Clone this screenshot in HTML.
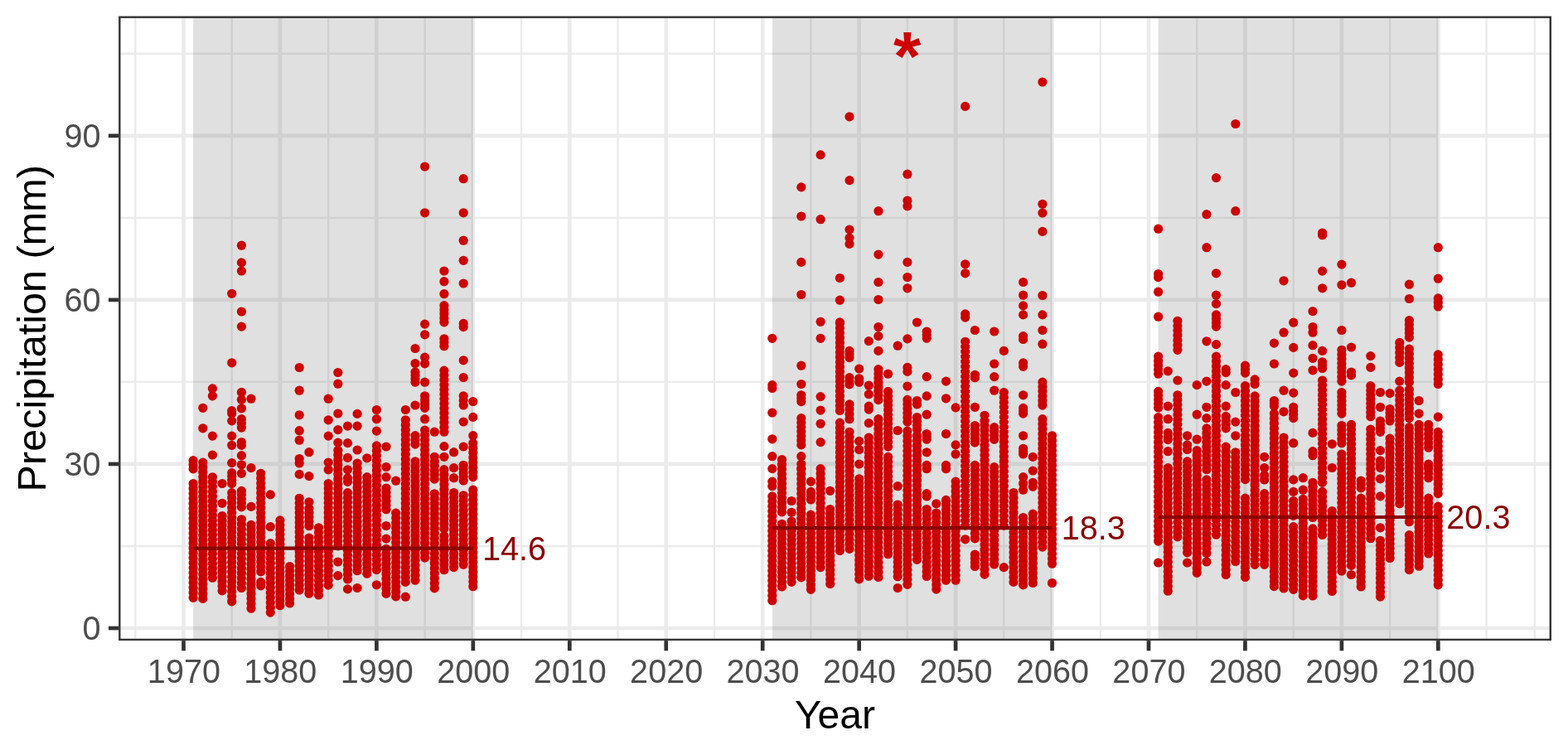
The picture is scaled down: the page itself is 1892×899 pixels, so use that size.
<!DOCTYPE html>
<html><head><meta charset="utf-8"><title>Precipitation</title>
<style>html,body{margin:0;padding:0;background:#fff;overflow:hidden}svg{display:block}</style>
</head><body>
<svg width="1892" height="899" viewBox="0 0 1892 899">
<rect x="0" y="0" width="1892" height="899" fill="#FFFFFF"/>
<defs><clipPath id="pc"><rect x="143.1" y="19.5" width="1728.90" height="753.60"/></clipPath></defs>
<g clip-path="url(#pc)">
<line x1="163.28" y1="19.5" x2="163.28" y2="773.1" stroke="#EBEBEB" stroke-width="2.4"/>
<line x1="279.73" y1="19.5" x2="279.73" y2="773.1" stroke="#EBEBEB" stroke-width="2.4"/>
<line x1="396.17" y1="19.5" x2="396.17" y2="773.1" stroke="#EBEBEB" stroke-width="2.4"/>
<line x1="512.62" y1="19.5" x2="512.62" y2="773.1" stroke="#EBEBEB" stroke-width="2.4"/>
<line x1="629.08" y1="19.5" x2="629.08" y2="773.1" stroke="#EBEBEB" stroke-width="2.4"/>
<line x1="745.52" y1="19.5" x2="745.52" y2="773.1" stroke="#EBEBEB" stroke-width="2.4"/>
<line x1="861.98" y1="19.5" x2="861.98" y2="773.1" stroke="#EBEBEB" stroke-width="2.4"/>
<line x1="978.42" y1="19.5" x2="978.42" y2="773.1" stroke="#EBEBEB" stroke-width="2.4"/>
<line x1="1094.88" y1="19.5" x2="1094.88" y2="773.1" stroke="#EBEBEB" stroke-width="2.4"/>
<line x1="1211.32" y1="19.5" x2="1211.32" y2="773.1" stroke="#EBEBEB" stroke-width="2.4"/>
<line x1="1327.77" y1="19.5" x2="1327.77" y2="773.1" stroke="#EBEBEB" stroke-width="2.4"/>
<line x1="1444.22" y1="19.5" x2="1444.22" y2="773.1" stroke="#EBEBEB" stroke-width="2.4"/>
<line x1="1560.67" y1="19.5" x2="1560.67" y2="773.1" stroke="#EBEBEB" stroke-width="2.4"/>
<line x1="1677.12" y1="19.5" x2="1677.12" y2="773.1" stroke="#EBEBEB" stroke-width="2.4"/>
<line x1="1793.58" y1="19.5" x2="1793.58" y2="773.1" stroke="#EBEBEB" stroke-width="2.4"/>
<line x1="1851.80" y1="19.5" x2="1851.80" y2="773.1" stroke="#EBEBEB" stroke-width="2.4"/>
<line x1="143.1" y1="658.97" x2="1872.0" y2="658.97" stroke="#EBEBEB" stroke-width="2.4"/>
<line x1="143.1" y1="460.91" x2="1872.0" y2="460.91" stroke="#EBEBEB" stroke-width="2.4"/>
<line x1="143.1" y1="262.85" x2="1872.0" y2="262.85" stroke="#EBEBEB" stroke-width="2.4"/>
<line x1="143.1" y1="64.79" x2="1872.0" y2="64.79" stroke="#EBEBEB" stroke-width="2.4"/>
<line x1="221.50" y1="19.5" x2="221.50" y2="773.1" stroke="#EBEBEB" stroke-width="4.7"/>
<line x1="337.95" y1="19.5" x2="337.95" y2="773.1" stroke="#EBEBEB" stroke-width="4.7"/>
<line x1="454.40" y1="19.5" x2="454.40" y2="773.1" stroke="#EBEBEB" stroke-width="4.7"/>
<line x1="570.85" y1="19.5" x2="570.85" y2="773.1" stroke="#EBEBEB" stroke-width="4.7"/>
<line x1="687.30" y1="19.5" x2="687.30" y2="773.1" stroke="#EBEBEB" stroke-width="4.7"/>
<line x1="803.75" y1="19.5" x2="803.75" y2="773.1" stroke="#EBEBEB" stroke-width="4.7"/>
<line x1="920.20" y1="19.5" x2="920.20" y2="773.1" stroke="#EBEBEB" stroke-width="4.7"/>
<line x1="1036.65" y1="19.5" x2="1036.65" y2="773.1" stroke="#EBEBEB" stroke-width="4.7"/>
<line x1="1153.10" y1="19.5" x2="1153.10" y2="773.1" stroke="#EBEBEB" stroke-width="4.7"/>
<line x1="1269.55" y1="19.5" x2="1269.55" y2="773.1" stroke="#EBEBEB" stroke-width="4.7"/>
<line x1="1386.00" y1="19.5" x2="1386.00" y2="773.1" stroke="#EBEBEB" stroke-width="4.7"/>
<line x1="1502.45" y1="19.5" x2="1502.45" y2="773.1" stroke="#EBEBEB" stroke-width="4.7"/>
<line x1="1618.90" y1="19.5" x2="1618.90" y2="773.1" stroke="#EBEBEB" stroke-width="4.7"/>
<line x1="1735.35" y1="19.5" x2="1735.35" y2="773.1" stroke="#EBEBEB" stroke-width="4.7"/>
<line x1="143.1" y1="758.00" x2="1872.0" y2="758.00" stroke="#EBEBEB" stroke-width="4.7"/>
<line x1="143.1" y1="559.94" x2="1872.0" y2="559.94" stroke="#EBEBEB" stroke-width="4.7"/>
<line x1="143.1" y1="361.88" x2="1872.0" y2="361.88" stroke="#EBEBEB" stroke-width="4.7"/>
<line x1="143.1" y1="163.82" x2="1872.0" y2="163.82" stroke="#EBEBEB" stroke-width="4.7"/>
<rect x="233.15" y="19.5" width="337.70" height="753.60" fill="#666666" fill-opacity="0.2"/>
<rect x="931.85" y="19.5" width="337.70" height="753.60" fill="#666666" fill-opacity="0.2"/>
<rect x="1397.64" y="19.5" width="337.70" height="753.60" fill="#666666" fill-opacity="0.2"/>
<g fill="#CD0000" stroke="none">
<line x1="233.1" y1="555.7" x2="233.1" y2="571" stroke="#CD0000" stroke-width="11.2" stroke-linecap="round" stroke-dasharray="0 5.100"/>
<line x1="233.1" y1="583.5" x2="233.1" y2="721.3" stroke="#CD0000" stroke-width="11.2" stroke-linecap="round" stroke-dasharray="0 5.991"/>
<line x1="244.8" y1="558" x2="244.8" y2="722.4" stroke="#CD0000" stroke-width="11.2" stroke-linecap="round" stroke-dasharray="0 5.871"/>
<circle cx="244.8" cy="492.3" r="5.6"/>
<circle cx="244.8" cy="516.8" r="5.6"/>
<line x1="256.4" y1="575.8" x2="256.4" y2="703" stroke="#CD0000" stroke-width="11.2" stroke-linecap="round" stroke-dasharray="0 5.782"/>
<circle cx="256.4" cy="468.9" r="5.6"/>
<circle cx="256.4" cy="477.8" r="5.6"/>
<circle cx="256.4" cy="526.1" r="5.6"/>
<circle cx="256.4" cy="549" r="5.6"/>
<line x1="268.1" y1="622.5" x2="268.1" y2="712.9" stroke="#CD0000" stroke-width="11.2" stroke-linecap="round" stroke-dasharray="0 5.650"/>
<circle cx="268.1" cy="583.5" r="5.6"/>
<circle cx="268.1" cy="607.3" r="5.6"/>
<line x1="279.7" y1="570.6" x2="279.7" y2="583.5" stroke="#CD0000" stroke-width="11.2" stroke-linecap="round" stroke-dasharray="0 4.300"/>
<line x1="279.7" y1="594.7" x2="279.7" y2="725.8" stroke="#CD0000" stroke-width="11.2" stroke-linecap="round" stroke-dasharray="0 5.959"/>
<circle cx="279.7" cy="354.3" r="5.6"/>
<circle cx="279.7" cy="437.8" r="5.6"/>
<circle cx="279.7" cy="495.6" r="5.6"/>
<circle cx="279.7" cy="499" r="5.6"/>
<circle cx="279.7" cy="507.9" r="5.6"/>
<circle cx="279.7" cy="526.1" r="5.6"/>
<circle cx="279.7" cy="537.3" r="5.6"/>
<circle cx="279.7" cy="558.6" r="5.6"/>
<line x1="291.4" y1="505.7" x2="291.4" y2="521.2" stroke="#CD0000" stroke-width="11.2" stroke-linecap="round" stroke-dasharray="0 5.167"/>
<line x1="291.4" y1="533.5" x2="291.4" y2="541.3" stroke="#CD0000" stroke-width="11.2" stroke-linecap="round" stroke-dasharray="0 3.900"/>
<line x1="291.4" y1="592.4" x2="291.4" y2="616.7" stroke="#CD0000" stroke-width="11.2" stroke-linecap="round" stroke-dasharray="0 4.860"/>
<line x1="291.4" y1="626.8" x2="291.4" y2="709.5" stroke="#CD0000" stroke-width="11.2" stroke-linecap="round" stroke-dasharray="0 5.907"/>
<circle cx="291.4" cy="296.2" r="5.6"/>
<circle cx="291.4" cy="316.9" r="5.6"/>
<circle cx="291.4" cy="327" r="5.6"/>
<circle cx="291.4" cy="376" r="5.6"/>
<circle cx="291.4" cy="394.1" r="5.6"/>
<circle cx="291.4" cy="473.4" r="5.6"/>
<circle cx="291.4" cy="482.3" r="5.6"/>
<circle cx="291.4" cy="492.8" r="5.6"/>
<circle cx="291.4" cy="549.7" r="5.6"/>
<circle cx="291.4" cy="560.8" r="5.6"/>
<circle cx="291.4" cy="571.3" r="5.6"/>
<line x1="303.0" y1="633.4" x2="303.0" y2="734.2" stroke="#CD0000" stroke-width="11.2" stroke-linecap="round" stroke-dasharray="0 5.929"/>
<circle cx="303.0" cy="481.2" r="5.6"/>
<circle cx="303.0" cy="564.6" r="5.6"/>
<circle cx="303.0" cy="611.4" r="5.6"/>
<line x1="314.7" y1="571.3" x2="314.7" y2="695.7" stroke="#CD0000" stroke-width="11.2" stroke-linecap="round" stroke-dasharray="0 5.924"/>
<line x1="314.7" y1="702.4" x2="314.7" y2="711.3" stroke="#CD0000" stroke-width="11.2" stroke-linecap="round" stroke-dasharray="0 4.450"/>
<line x1="326.3" y1="655.7" x2="326.3" y2="739.1" stroke="#CD0000" stroke-width="11.2" stroke-linecap="round" stroke-dasharray="0 5.957"/>
<circle cx="326.3" cy="596.9" r="5.6"/>
<circle cx="326.3" cy="635.7" r="5.6"/>
<line x1="337.9" y1="627.9" x2="337.9" y2="730.7" stroke="#CD0000" stroke-width="11.2" stroke-linecap="round" stroke-dasharray="0 5.711"/>
<line x1="349.6" y1="683.5" x2="349.6" y2="728" stroke="#CD0000" stroke-width="11.2" stroke-linecap="round" stroke-dasharray="0 5.562"/>
<line x1="361.2" y1="601.3" x2="361.2" y2="712" stroke="#CD0000" stroke-width="11.2" stroke-linecap="round" stroke-dasharray="0 5.826"/>
<circle cx="361.2" cy="443.5" r="5.6"/>
<circle cx="361.2" cy="471.2" r="5.6"/>
<circle cx="361.2" cy="500.8" r="5.6"/>
<circle cx="361.2" cy="519.7" r="5.6"/>
<circle cx="361.2" cy="531.2" r="5.6"/>
<circle cx="361.2" cy="553.5" r="5.6"/>
<circle cx="361.2" cy="559" r="5.6"/>
<circle cx="361.2" cy="572.4" r="5.6"/>
<line x1="372.9" y1="613.4" x2="372.9" y2="640" stroke="#CD0000" stroke-width="11.2" stroke-linecap="round" stroke-dasharray="0 5.320"/>
<line x1="372.9" y1="649" x2="372.9" y2="721.8" stroke="#CD0000" stroke-width="11.2" stroke-linecap="round" stroke-dasharray="0 5.600"/>
<circle cx="372.9" cy="545.7" r="5.6"/>
<circle cx="372.9" cy="574.6" r="5.6"/>
<circle cx="372.9" cy="605.8" r="5.6"/>
<line x1="384.5" y1="636.8" x2="384.5" y2="718" stroke="#CD0000" stroke-width="11.2" stroke-linecap="round" stroke-dasharray="0 5.800"/>
<line x1="396.2" y1="583.5" x2="396.2" y2="712" stroke="#CD0000" stroke-width="11.2" stroke-linecap="round" stroke-dasharray="0 5.841"/>
<circle cx="396.2" cy="481.2" r="5.6"/>
<circle cx="396.2" cy="506.8" r="5.6"/>
<circle cx="396.2" cy="526.1" r="5.6"/>
<circle cx="396.2" cy="558" r="5.6"/>
<circle cx="396.2" cy="566.8" r="5.6"/>
<line x1="407.8" y1="543.5" x2="407.8" y2="664.6" stroke="#CD0000" stroke-width="11.2" stroke-linecap="round" stroke-dasharray="0 5.767"/>
<circle cx="407.8" cy="449.5" r="5.6"/>
<circle cx="407.8" cy="463.2" r="5.6"/>
<circle cx="407.8" cy="499" r="5.6"/>
<circle cx="407.8" cy="518.6" r="5.6"/>
<circle cx="407.8" cy="534.1" r="5.6"/>
<circle cx="407.8" cy="678" r="5.6"/>
<circle cx="407.8" cy="694.6" r="5.6"/>
<line x1="419.5" y1="576.9" x2="419.5" y2="585.8" stroke="#CD0000" stroke-width="11.2" stroke-linecap="round" stroke-dasharray="0 4.450"/>
<line x1="419.5" y1="594.7" x2="419.5" y2="699" stroke="#CD0000" stroke-width="11.2" stroke-linecap="round" stroke-dasharray="0 5.794"/>
<circle cx="419.5" cy="514.1" r="5.6"/>
<circle cx="419.5" cy="534.6" r="5.6"/>
<circle cx="419.5" cy="552.4" r="5.6"/>
<circle cx="419.5" cy="566.8" r="5.6"/>
<circle cx="419.5" cy="710.9" r="5.6"/>
<line x1="431.1" y1="559" x2="431.1" y2="694.6" stroke="#CD0000" stroke-width="11.2" stroke-linecap="round" stroke-dasharray="0 5.896"/>
<circle cx="431.1" cy="499.4" r="5.6"/>
<circle cx="431.1" cy="514.1" r="5.6"/>
<circle cx="431.1" cy="543" r="5.6"/>
<circle cx="431.1" cy="709.5" r="5.6"/>
<line x1="442.8" y1="575.7" x2="442.8" y2="698" stroke="#CD0000" stroke-width="11.2" stroke-linecap="round" stroke-dasharray="0 5.824"/>
<circle cx="442.8" cy="552.8" r="5.6"/>
<line x1="454.4" y1="520.1" x2="454.4" y2="524.6" stroke="#CD0000" stroke-width="11.2" stroke-linecap="round" stroke-dasharray="0 4.500"/>
<line x1="454.4" y1="537.9" x2="454.4" y2="693.5" stroke="#CD0000" stroke-width="11.2" stroke-linecap="round" stroke-dasharray="0 5.985"/>
<circle cx="454.4" cy="494.5" r="5.6"/>
<circle cx="454.4" cy="505.7" r="5.6"/>
<circle cx="454.4" cy="705.8" r="5.6"/>
<line x1="466.0" y1="589" x2="466.0" y2="614.7" stroke="#CD0000" stroke-width="11.2" stroke-linecap="round" stroke-dasharray="0 5.140"/>
<line x1="466.0" y1="662.4" x2="466.0" y2="722.4" stroke="#CD0000" stroke-width="11.2" stroke-linecap="round" stroke-dasharray="0 6.000"/>
<circle cx="466.0" cy="539" r="5.6"/>
<circle cx="466.0" cy="563.5" r="5.6"/>
<circle cx="466.0" cy="575.7" r="5.6"/>
<circle cx="466.0" cy="634.5" r="5.6"/>
<circle cx="466.0" cy="650.1" r="5.6"/>
<line x1="477.7" y1="619.1" x2="477.7" y2="725.8" stroke="#CD0000" stroke-width="11.2" stroke-linecap="round" stroke-dasharray="0 5.928"/>
<circle cx="477.7" cy="580.2" r="5.6"/>
<line x1="489.3" y1="506.8" x2="489.3" y2="702.4" stroke="#CD0000" stroke-width="11.2" stroke-linecap="round" stroke-dasharray="0 5.927"/>
<circle cx="489.3" cy="494.5" r="5.6"/>
<circle cx="489.3" cy="720.2" r="5.6"/>
<line x1="501.0" y1="448.9" x2="501.0" y2="461.2" stroke="#CD0000" stroke-width="11.2" stroke-linecap="round" stroke-dasharray="0 4.100"/>
<line x1="501.0" y1="525.7" x2="501.0" y2="541.3" stroke="#CD0000" stroke-width="11.2" stroke-linecap="round" stroke-dasharray="0 5.200"/>
<line x1="501.0" y1="556.8" x2="501.0" y2="700.2" stroke="#CD0000" stroke-width="11.2" stroke-linecap="round" stroke-dasharray="0 5.975"/>
<circle cx="501.0" cy="420.5" r="5.6"/>
<circle cx="501.0" cy="438.5" r="5.6"/>
<circle cx="501.0" cy="489" r="5.6"/>
<line x1="512.6" y1="477.8" x2="512.6" y2="492.3" stroke="#CD0000" stroke-width="11.2" stroke-linecap="round" stroke-dasharray="0 4.833"/>
<line x1="512.6" y1="519" x2="512.6" y2="679" stroke="#CD0000" stroke-width="11.2" stroke-linecap="round" stroke-dasharray="0 5.926"/>
<circle cx="512.6" cy="201" r="5.6"/>
<circle cx="512.6" cy="256.8" r="5.6"/>
<circle cx="512.6" cy="391.1" r="5.6"/>
<circle cx="512.6" cy="403.8" r="5.6"/>
<circle cx="512.6" cy="431.2" r="5.6"/>
<circle cx="512.6" cy="438.8" r="5.6"/>
<circle cx="512.6" cy="461.2" r="5.6"/>
<circle cx="512.6" cy="505.7" r="5.6"/>
<line x1="524.3" y1="551.3" x2="524.3" y2="583.5" stroke="#CD0000" stroke-width="11.2" stroke-linecap="round" stroke-dasharray="0 5.367"/>
<line x1="524.3" y1="595.8" x2="524.3" y2="715.8" stroke="#CD0000" stroke-width="11.2" stroke-linecap="round" stroke-dasharray="0 6.000"/>
<circle cx="524.3" cy="521.2" r="5.6"/>
<line x1="535.9" y1="368.7" x2="535.9" y2="393.8" stroke="#CD0000" stroke-width="11.2" stroke-linecap="round" stroke-dasharray="0 5.020"/>
<line x1="535.9" y1="408.8" x2="535.9" y2="422.2" stroke="#CD0000" stroke-width="11.2" stroke-linecap="round" stroke-dasharray="0 4.467"/>
<line x1="535.9" y1="447.2" x2="535.9" y2="521.2" stroke="#CD0000" stroke-width="11.2" stroke-linecap="round" stroke-dasharray="0 5.692"/>
<line x1="535.9" y1="566.7" x2="535.9" y2="637.9" stroke="#CD0000" stroke-width="11.2" stroke-linecap="round" stroke-dasharray="0 5.933"/>
<line x1="535.9" y1="646.8" x2="535.9" y2="693.5" stroke="#CD0000" stroke-width="11.2" stroke-linecap="round" stroke-dasharray="0 5.838"/>
<circle cx="535.9" cy="327" r="5.6"/>
<circle cx="535.9" cy="339.7" r="5.6"/>
<circle cx="535.9" cy="354.7" r="5.6"/>
<circle cx="535.9" cy="538.6" r="5.6"/>
<circle cx="535.9" cy="551.3" r="5.6"/>
<line x1="547.6" y1="594.5" x2="547.6" y2="684.6" stroke="#CD0000" stroke-width="11.2" stroke-linecap="round" stroke-dasharray="0 5.631"/>
<circle cx="547.6" cy="545.7" r="5.6"/>
<circle cx="547.6" cy="564.6" r="5.6"/>
<circle cx="547.6" cy="576.7" r="5.6"/>
<line x1="559.2" y1="342" x2="559.2" y2="345.3" stroke="#CD0000" stroke-width="11.2" stroke-linecap="round" stroke-dasharray="0 3.300"/>
<line x1="559.2" y1="390.4" x2="559.2" y2="398.8" stroke="#CD0000" stroke-width="11.2" stroke-linecap="round" stroke-dasharray="0 4.200"/>
<line x1="559.2" y1="455.5" x2="559.2" y2="458.9" stroke="#CD0000" stroke-width="11.2" stroke-linecap="round" stroke-dasharray="0 3.400"/>
<line x1="559.2" y1="477.8" x2="559.2" y2="494.5" stroke="#CD0000" stroke-width="11.2" stroke-linecap="round" stroke-dasharray="0 5.567"/>
<line x1="559.2" y1="561.3" x2="559.2" y2="580" stroke="#CD0000" stroke-width="11.2" stroke-linecap="round" stroke-dasharray="0 4.675"/>
<line x1="559.2" y1="597.8" x2="559.2" y2="681.3" stroke="#CD0000" stroke-width="11.2" stroke-linecap="round" stroke-dasharray="0 5.964"/>
<circle cx="559.2" cy="215.7" r="5.6"/>
<circle cx="559.2" cy="256.8" r="5.6"/>
<circle cx="559.2" cy="290.2" r="5.6"/>
<circle cx="559.2" cy="314.3" r="5.6"/>
<circle cx="559.2" cy="434.8" r="5.6"/>
<circle cx="559.2" cy="509" r="5.6"/>
<circle cx="559.2" cy="539" r="5.6"/>
<line x1="570.8" y1="534.6" x2="570.8" y2="575.6" stroke="#CD0000" stroke-width="11.2" stroke-linecap="round" stroke-dasharray="0 5.857"/>
<line x1="570.8" y1="591.2" x2="570.8" y2="713.5" stroke="#CD0000" stroke-width="11.2" stroke-linecap="round" stroke-dasharray="0 5.824"/>
<circle cx="570.8" cy="484.5" r="5.6"/>
<circle cx="570.8" cy="503.4" r="5.6"/>
<circle cx="570.8" cy="525.7" r="5.6"/>
<line x1="931.8" y1="464.6" x2="931.8" y2="472.4" stroke="#CD0000" stroke-width="11.2" stroke-linecap="round" stroke-dasharray="0 3.900"/>
<line x1="931.8" y1="581.1" x2="931.8" y2="586.7" stroke="#CD0000" stroke-width="11.2" stroke-linecap="round" stroke-dasharray="0 5.600"/>
<line x1="931.8" y1="598.9" x2="931.8" y2="724.7" stroke="#CD0000" stroke-width="11.2" stroke-linecap="round" stroke-dasharray="0 5.990"/>
<circle cx="931.8" cy="408.3" r="5.6"/>
<circle cx="931.8" cy="498" r="5.6"/>
<circle cx="931.8" cy="529.8" r="5.6"/>
<circle cx="931.8" cy="550.7" r="5.6"/>
<circle cx="931.8" cy="565.6" r="5.6"/>
<line x1="943.5" y1="554.7" x2="943.5" y2="617.9" stroke="#CD0000" stroke-width="11.2" stroke-linecap="round" stroke-dasharray="0 5.745"/>
<line x1="943.5" y1="632.3" x2="943.5" y2="708" stroke="#CD0000" stroke-width="11.2" stroke-linecap="round" stroke-dasharray="0 5.823"/>
<line x1="955.1" y1="629" x2="955.1" y2="708" stroke="#CD0000" stroke-width="11.2" stroke-linecap="round" stroke-dasharray="0 5.643"/>
<circle cx="955.1" cy="604.5" r="5.6"/>
<circle cx="955.1" cy="618.3" r="5.6"/>
<line x1="966.8" y1="441.2" x2="966.8" y2="446.8" stroke="#CD0000" stroke-width="11.2" stroke-linecap="round" stroke-dasharray="0 5.600"/>
<line x1="966.8" y1="463.5" x2="966.8" y2="466.8" stroke="#CD0000" stroke-width="11.2" stroke-linecap="round" stroke-dasharray="0 3.300"/>
<line x1="966.8" y1="476.8" x2="966.8" y2="484.6" stroke="#CD0000" stroke-width="11.2" stroke-linecap="round" stroke-dasharray="0 3.900"/>
<line x1="966.8" y1="504.6" x2="966.8" y2="536.9" stroke="#CD0000" stroke-width="11.2" stroke-linecap="round" stroke-dasharray="0 5.383"/>
<line x1="966.8" y1="560" x2="966.8" y2="691.3" stroke="#CD0000" stroke-width="11.2" stroke-linecap="round" stroke-dasharray="0 5.968"/>
<circle cx="966.8" cy="225.9" r="5.6"/>
<circle cx="966.8" cy="261" r="5.6"/>
<circle cx="966.8" cy="316.4" r="5.6"/>
<circle cx="966.8" cy="355.5" r="5.6"/>
<circle cx="966.8" cy="550.7" r="5.6"/>
<circle cx="966.8" cy="565.4" r="5.6"/>
<circle cx="966.8" cy="696.8" r="5.6"/>
<line x1="978.4" y1="593.4" x2="978.4" y2="607.8" stroke="#CD0000" stroke-width="11.2" stroke-linecap="round" stroke-dasharray="0 4.800"/>
<line x1="978.4" y1="621.2" x2="978.4" y2="711.3" stroke="#CD0000" stroke-width="11.2" stroke-linecap="round" stroke-dasharray="0 5.631"/>
<circle cx="978.4" cy="581.1" r="5.6"/>
<line x1="990.1" y1="533.6" x2="990.1" y2="539.1" stroke="#CD0000" stroke-width="11.2" stroke-linecap="round" stroke-dasharray="0 5.500"/>
<line x1="990.1" y1="565.6" x2="990.1" y2="684.6" stroke="#CD0000" stroke-width="11.2" stroke-linecap="round" stroke-dasharray="0 5.950"/>
<circle cx="990.1" cy="186.9" r="5.6"/>
<circle cx="990.1" cy="264.7" r="5.6"/>
<circle cx="990.1" cy="388.3" r="5.6"/>
<circle cx="990.1" cy="408.3" r="5.6"/>
<circle cx="990.1" cy="478.6" r="5.6"/>
<circle cx="990.1" cy="495.1" r="5.6"/>
<circle cx="990.1" cy="511.3" r="5.6"/>
<line x1="1001.7" y1="614.5" x2="1001.7" y2="704.6" stroke="#CD0000" stroke-width="11.2" stroke-linecap="round" stroke-dasharray="0 5.631"/>
<circle cx="1001.7" cy="592.3" r="5.6"/>
<line x1="1013.4" y1="390" x2="1013.4" y2="501.3" stroke="#CD0000" stroke-width="11.2" stroke-linecap="round" stroke-dasharray="0 5.858"/>
<line x1="1013.4" y1="510.2" x2="1013.4" y2="664.6" stroke="#CD0000" stroke-width="11.2" stroke-linecap="round" stroke-dasharray="0 5.938"/>
<circle cx="1013.4" cy="335.5" r="5.6"/>
<circle cx="1013.4" cy="362.2" r="5.6"/>
<circle cx="1013.4" cy="388.9" r="5.6"/>
<line x1="1025.0" y1="423.4" x2="1025.0" y2="435.6" stroke="#CD0000" stroke-width="11.2" stroke-linecap="round" stroke-dasharray="0 4.067"/>
<line x1="1025.0" y1="455.7" x2="1025.0" y2="467.9" stroke="#CD0000" stroke-width="11.2" stroke-linecap="round" stroke-dasharray="0 4.067"/>
<line x1="1025.0" y1="487.9" x2="1025.0" y2="505.7" stroke="#CD0000" stroke-width="11.2" stroke-linecap="round" stroke-dasharray="0 5.933"/>
<line x1="1025.0" y1="521.3" x2="1025.0" y2="662.4" stroke="#CD0000" stroke-width="11.2" stroke-linecap="round" stroke-dasharray="0 5.879"/>
<circle cx="1025.0" cy="140.8" r="5.6"/>
<circle cx="1025.0" cy="217.6" r="5.6"/>
<circle cx="1025.0" cy="277" r="5.6"/>
<circle cx="1025.0" cy="287.1" r="5.6"/>
<circle cx="1025.0" cy="294.4" r="5.6"/>
<line x1="1036.7" y1="456.8" x2="1036.7" y2="461.2" stroke="#CD0000" stroke-width="11.2" stroke-linecap="round" stroke-dasharray="0 4.400"/>
<line x1="1036.7" y1="577.8" x2="1036.7" y2="704.6" stroke="#CD0000" stroke-width="11.2" stroke-linecap="round" stroke-dasharray="0 5.764"/>
<circle cx="1036.7" cy="445" r="5.6"/>
<circle cx="1036.7" cy="532.4" r="5.6"/>
<circle cx="1036.7" cy="542.5" r="5.6"/>
<circle cx="1036.7" cy="560" r="5.6"/>
<line x1="1048.3" y1="490.2" x2="1048.3" y2="498" stroke="#CD0000" stroke-width="11.2" stroke-linecap="round" stroke-dasharray="0 3.900"/>
<line x1="1048.3" y1="528" x2="1048.3" y2="701.3" stroke="#CD0000" stroke-width="11.2" stroke-linecap="round" stroke-dasharray="0 5.976"/>
<circle cx="1048.3" cy="411.6" r="5.6"/>
<circle cx="1048.3" cy="465.2" r="5.6"/>
<circle cx="1048.3" cy="475.7" r="5.6"/>
<circle cx="1048.3" cy="510.6" r="5.6"/>
<line x1="1059.9" y1="307.1" x2="1059.9" y2="311.1" stroke="#CD0000" stroke-width="11.2" stroke-linecap="round" stroke-dasharray="0 4.000"/>
<line x1="1059.9" y1="340.5" x2="1059.9" y2="344.5" stroke="#CD0000" stroke-width="11.2" stroke-linecap="round" stroke-dasharray="0 4.000"/>
<line x1="1059.9" y1="445.7" x2="1059.9" y2="487.9" stroke="#CD0000" stroke-width="11.2" stroke-linecap="round" stroke-dasharray="0 5.275"/>
<line x1="1059.9" y1="505.7" x2="1059.9" y2="702.4" stroke="#CD0000" stroke-width="11.2" stroke-linecap="round" stroke-dasharray="0 5.961"/>
<circle cx="1059.9" cy="254.7" r="5.6"/>
<circle cx="1059.9" cy="361.5" r="5.6"/>
<circle cx="1059.9" cy="394.5" r="5.6"/>
<circle cx="1059.9" cy="405.6" r="5.6"/>
<circle cx="1059.9" cy="423.4" r="5.6"/>
<line x1="1071.6" y1="472.4" x2="1071.6" y2="539.1" stroke="#CD0000" stroke-width="11.2" stroke-linecap="round" stroke-dasharray="0 5.558"/>
<line x1="1071.6" y1="551.4" x2="1071.6" y2="674.6" stroke="#CD0000" stroke-width="11.2" stroke-linecap="round" stroke-dasharray="0 5.867"/>
<circle cx="1071.6" cy="451.2" r="5.6"/>
<line x1="1083.2" y1="609" x2="1083.2" y2="695.7" stroke="#CD0000" stroke-width="11.2" stroke-linecap="round" stroke-dasharray="0 5.780"/>
<circle cx="1083.2" cy="417.2" r="5.6"/>
<circle cx="1083.2" cy="519.5" r="5.6"/>
<circle cx="1083.2" cy="586.7" r="5.6"/>
<circle cx="1083.2" cy="709.5" r="5.6"/>
<line x1="1094.9" y1="443.4" x2="1094.9" y2="453.4" stroke="#CD0000" stroke-width="11.2" stroke-linecap="round" stroke-dasharray="0 5.000"/>
<line x1="1094.9" y1="482.4" x2="1094.9" y2="509.1" stroke="#CD0000" stroke-width="11.2" stroke-linecap="round" stroke-dasharray="0 5.340"/>
<line x1="1094.9" y1="520.2" x2="1094.9" y2="711.3" stroke="#CD0000" stroke-width="11.2" stroke-linecap="round" stroke-dasharray="0 5.972"/>
<circle cx="1094.9" cy="210.2" r="5.6"/>
<circle cx="1094.9" cy="242" r="5.6"/>
<circle cx="1094.9" cy="248.7" r="5.6"/>
<circle cx="1094.9" cy="316.4" r="5.6"/>
<circle cx="1094.9" cy="334.5" r="5.6"/>
<circle cx="1094.9" cy="347.8" r="5.6"/>
<circle cx="1094.9" cy="408.9" r="5.6"/>
<circle cx="1094.9" cy="466.1" r="5.6"/>
<line x1="1106.5" y1="483.5" x2="1106.5" y2="492.4" stroke="#CD0000" stroke-width="11.2" stroke-linecap="round" stroke-dasharray="0 4.450"/>
<line x1="1106.5" y1="503.5" x2="1106.5" y2="518" stroke="#CD0000" stroke-width="11.2" stroke-linecap="round" stroke-dasharray="0 4.833"/>
<line x1="1106.5" y1="525.8" x2="1106.5" y2="681.3" stroke="#CD0000" stroke-width="11.2" stroke-linecap="round" stroke-dasharray="0 5.981"/>
<circle cx="1106.5" cy="389" r="5.6"/>
<line x1="1118.2" y1="400" x2="1118.2" y2="412.3" stroke="#CD0000" stroke-width="11.2" stroke-linecap="round" stroke-dasharray="0 4.100"/>
<line x1="1118.2" y1="477.9" x2="1118.2" y2="481.3" stroke="#CD0000" stroke-width="11.2" stroke-linecap="round" stroke-dasharray="0 3.400"/>
<line x1="1118.2" y1="523.5" x2="1118.2" y2="530.2" stroke="#CD0000" stroke-width="11.2" stroke-linecap="round" stroke-dasharray="0 3.350"/>
<line x1="1118.2" y1="561.4" x2="1118.2" y2="570" stroke="#CD0000" stroke-width="11.2" stroke-linecap="round" stroke-dasharray="0 4.300"/>
<line x1="1118.2" y1="595.6" x2="1118.2" y2="599" stroke="#CD0000" stroke-width="11.2" stroke-linecap="round" stroke-dasharray="0 3.400"/>
<line x1="1118.2" y1="614.5" x2="1118.2" y2="701.3" stroke="#CD0000" stroke-width="11.2" stroke-linecap="round" stroke-dasharray="0 5.787"/>
<circle cx="1118.2" cy="454.6" r="5.6"/>
<circle cx="1118.2" cy="500.2" r="5.6"/>
<circle cx="1118.2" cy="545.8" r="5.6"/>
<line x1="1129.8" y1="619" x2="1129.8" y2="716.9" stroke="#CD0000" stroke-width="11.2" stroke-linecap="round" stroke-dasharray="0 5.759"/>
<circle cx="1129.8" cy="607.8" r="5.6"/>
<line x1="1141.5" y1="523.5" x2="1141.5" y2="529.1" stroke="#CD0000" stroke-width="11.2" stroke-linecap="round" stroke-dasharray="0 5.600"/>
<line x1="1141.5" y1="561.4" x2="1141.5" y2="570" stroke="#CD0000" stroke-width="11.2" stroke-linecap="round" stroke-dasharray="0 4.300"/>
<line x1="1141.5" y1="603.4" x2="1141.5" y2="700.2" stroke="#CD0000" stroke-width="11.2" stroke-linecap="round" stroke-dasharray="0 5.694"/>
<circle cx="1141.5" cy="460.1" r="5.6"/>
<circle cx="1141.5" cy="480.8" r="5.6"/>
<line x1="1153.1" y1="581.1" x2="1153.1" y2="700.2" stroke="#CD0000" stroke-width="11.2" stroke-linecap="round" stroke-dasharray="0 5.955"/>
<circle cx="1153.1" cy="491.9" r="5.6"/>
<circle cx="1153.1" cy="536.9" r="5.6"/>
<circle cx="1153.1" cy="548" r="5.6"/>
<line x1="1164.7" y1="378.9" x2="1164.7" y2="387.3" stroke="#CD0000" stroke-width="11.2" stroke-linecap="round" stroke-dasharray="0 4.200"/>
<line x1="1164.7" y1="412.3" x2="1164.7" y2="640.1" stroke="#CD0000" stroke-width="11.2" stroke-linecap="round" stroke-dasharray="0 5.995"/>
<circle cx="1164.7" cy="128.4" r="5.6"/>
<circle cx="1164.7" cy="318.8" r="5.6"/>
<circle cx="1164.7" cy="329.8" r="5.6"/>
<circle cx="1164.7" cy="650.8" r="5.6"/>
<line x1="1176.4" y1="452.3" x2="1176.4" y2="455.7" stroke="#CD0000" stroke-width="11.2" stroke-linecap="round" stroke-dasharray="0 3.400"/>
<line x1="1176.4" y1="491.3" x2="1176.4" y2="496.8" stroke="#CD0000" stroke-width="11.2" stroke-linecap="round" stroke-dasharray="0 5.500"/>
<line x1="1176.4" y1="513.5" x2="1176.4" y2="539.1" stroke="#CD0000" stroke-width="11.2" stroke-linecap="round" stroke-dasharray="0 5.120"/>
<line x1="1176.4" y1="561.4" x2="1176.4" y2="655.7" stroke="#CD0000" stroke-width="11.2" stroke-linecap="round" stroke-dasharray="0 5.894"/>
<line x1="1176.4" y1="669" x2="1176.4" y2="683.5" stroke="#CD0000" stroke-width="11.2" stroke-linecap="round" stroke-dasharray="0 4.833"/>
<circle cx="1176.4" cy="398.5" r="5.6"/>
<line x1="1188.0" y1="501.3" x2="1188.0" y2="699.1" stroke="#CD0000" stroke-width="11.2" stroke-linecap="round" stroke-dasharray="0 5.994"/>
<line x1="1199.7" y1="471.2" x2="1199.7" y2="476.8" stroke="#CD0000" stroke-width="11.2" stroke-linecap="round" stroke-dasharray="0 5.600"/>
<line x1="1199.7" y1="515.7" x2="1199.7" y2="530.2" stroke="#CD0000" stroke-width="11.2" stroke-linecap="round" stroke-dasharray="0 4.833"/>
<line x1="1199.7" y1="563.6" x2="1199.7" y2="686.8" stroke="#CD0000" stroke-width="11.2" stroke-linecap="round" stroke-dasharray="0 5.867"/>
<circle cx="1199.7" cy="400" r="5.6"/>
<circle cx="1199.7" cy="439" r="5.6"/>
<circle cx="1199.7" cy="454.6" r="5.6"/>
<line x1="1211.3" y1="473.5" x2="1211.3" y2="640.1" stroke="#CD0000" stroke-width="11.2" stroke-linecap="round" stroke-dasharray="0 5.950"/>
<circle cx="1211.3" cy="423.4" r="5.6"/>
<circle cx="1211.3" cy="684.6" r="5.6"/>
<line x1="1223.0" y1="594.5" x2="1223.0" y2="702.4" stroke="#CD0000" stroke-width="11.2" stroke-linecap="round" stroke-dasharray="0 5.994"/>
<line x1="1234.6" y1="340.5" x2="1234.6" y2="345.5" stroke="#CD0000" stroke-width="11.2" stroke-linecap="round" stroke-dasharray="0 5.000"/>
<line x1="1234.6" y1="405.6" x2="1234.6" y2="413.4" stroke="#CD0000" stroke-width="11.2" stroke-linecap="round" stroke-dasharray="0 3.900"/>
<line x1="1234.6" y1="437.9" x2="1234.6" y2="446.8" stroke="#CD0000" stroke-width="11.2" stroke-linecap="round" stroke-dasharray="0 4.450"/>
<line x1="1234.6" y1="492.4" x2="1234.6" y2="499.1" stroke="#CD0000" stroke-width="11.2" stroke-linecap="round" stroke-dasharray="0 3.350"/>
<line x1="1234.6" y1="541.3" x2="1234.6" y2="548" stroke="#CD0000" stroke-width="11.2" stroke-linecap="round" stroke-dasharray="0 3.350"/>
<line x1="1234.6" y1="624.5" x2="1234.6" y2="705.8" stroke="#CD0000" stroke-width="11.2" stroke-linecap="round" stroke-dasharray="0 5.807"/>
<circle cx="1234.6" cy="356.2" r="5.6"/>
<circle cx="1234.6" cy="368.9" r="5.6"/>
<circle cx="1234.6" cy="379.9" r="5.6"/>
<circle cx="1234.6" cy="476.8" r="5.6"/>
<circle cx="1234.6" cy="525.8" r="5.6"/>
<circle cx="1234.6" cy="575.6" r="5.6"/>
<circle cx="1234.6" cy="583.4" r="5.6"/>
<circle cx="1234.6" cy="591.2" r="5.6"/>
<line x1="1246.3" y1="568" x2="1246.3" y2="570" stroke="#CD0000" stroke-width="11.2" stroke-linecap="round" stroke-dasharray="0 2.000"/>
<line x1="1246.3" y1="582.3" x2="1246.3" y2="592.3" stroke="#CD0000" stroke-width="11.2" stroke-linecap="round" stroke-dasharray="0 5.000"/>
<line x1="1246.3" y1="620.1" x2="1246.3" y2="703.5" stroke="#CD0000" stroke-width="11.2" stroke-linecap="round" stroke-dasharray="0 5.957"/>
<circle cx="1246.3" cy="551.4" r="5.6"/>
<line x1="1257.9" y1="461.2" x2="1257.9" y2="494.6" stroke="#CD0000" stroke-width="11.2" stroke-linecap="round" stroke-dasharray="0 5.567"/>
<line x1="1257.9" y1="505.7" x2="1257.9" y2="660.1" stroke="#CD0000" stroke-width="11.2" stroke-linecap="round" stroke-dasharray="0 5.938"/>
<circle cx="1257.9" cy="99" r="5.6"/>
<circle cx="1257.9" cy="246.3" r="5.6"/>
<circle cx="1257.9" cy="257" r="5.6"/>
<circle cx="1257.9" cy="279.4" r="5.6"/>
<circle cx="1257.9" cy="356.5" r="5.6"/>
<circle cx="1257.9" cy="379.9" r="5.6"/>
<circle cx="1257.9" cy="398.5" r="5.6"/>
<circle cx="1257.9" cy="415.2" r="5.6"/>
<line x1="1269.5" y1="525.8" x2="1269.5" y2="680.2" stroke="#CD0000" stroke-width="11.2" stroke-linecap="round" stroke-dasharray="0 5.938"/>
<circle cx="1269.5" cy="703.5" r="5.6"/>
<line x1="1397.6" y1="330.5" x2="1397.6" y2="338.8" stroke="#CD0000" stroke-width="11.2" stroke-linecap="round" stroke-dasharray="0 4.150"/>
<line x1="1397.6" y1="430.1" x2="1397.6" y2="451.2" stroke="#CD0000" stroke-width="11.2" stroke-linecap="round" stroke-dasharray="0 5.275"/>
<line x1="1397.6" y1="472.4" x2="1397.6" y2="496.8" stroke="#CD0000" stroke-width="11.2" stroke-linecap="round" stroke-dasharray="0 4.880"/>
<line x1="1397.6" y1="503.5" x2="1397.6" y2="659" stroke="#CD0000" stroke-width="11.2" stroke-linecap="round" stroke-dasharray="0 5.981"/>
<circle cx="1397.6" cy="276.2" r="5.6"/>
<circle cx="1397.6" cy="352.2" r="5.6"/>
<circle cx="1397.6" cy="382.2" r="5.6"/>
<circle cx="1397.6" cy="679" r="5.6"/>
<line x1="1409.3" y1="522.4" x2="1409.3" y2="534.7" stroke="#CD0000" stroke-width="11.2" stroke-linecap="round" stroke-dasharray="0 4.100"/>
<line x1="1409.3" y1="544.7" x2="1409.3" y2="550.2" stroke="#CD0000" stroke-width="11.2" stroke-linecap="round" stroke-dasharray="0 5.500"/>
<line x1="1409.3" y1="566.7" x2="1409.3" y2="719.1" stroke="#CD0000" stroke-width="11.2" stroke-linecap="round" stroke-dasharray="0 5.862"/>
<circle cx="1409.3" cy="447.9" r="5.6"/>
<circle cx="1409.3" cy="490.2" r="5.6"/>
<circle cx="1409.3" cy="505.7" r="5.6"/>
<circle cx="1409.3" cy="564.7" r="5.6"/>
<line x1="1420.9" y1="387.3" x2="1420.9" y2="422.3" stroke="#CD0000" stroke-width="11.2" stroke-linecap="round" stroke-dasharray="0 5.833"/>
<line x1="1420.9" y1="476.8" x2="1420.9" y2="647.9" stroke="#CD0000" stroke-width="11.2" stroke-linecap="round" stroke-dasharray="0 5.900"/>
<circle cx="1420.9" cy="459" r="5.6"/>
<line x1="1432.6" y1="536.9" x2="1432.6" y2="548" stroke="#CD0000" stroke-width="11.2" stroke-linecap="round" stroke-dasharray="0 5.550"/>
<line x1="1432.6" y1="556.9" x2="1432.6" y2="666.8" stroke="#CD0000" stroke-width="11.2" stroke-linecap="round" stroke-dasharray="0 5.784"/>
<circle cx="1432.6" cy="525.8" r="5.6"/>
<circle cx="1432.6" cy="679" r="5.6"/>
<line x1="1444.2" y1="543.6" x2="1444.2" y2="691.3" stroke="#CD0000" stroke-width="11.2" stroke-linecap="round" stroke-dasharray="0 5.908"/>
<circle cx="1444.2" cy="464.6" r="5.6"/>
<circle cx="1444.2" cy="500.2" r="5.6"/>
<circle cx="1444.2" cy="530.2" r="5.6"/>
<line x1="1455.9" y1="516.9" x2="1455.9" y2="566.7" stroke="#CD0000" stroke-width="11.2" stroke-linecap="round" stroke-dasharray="0 5.533"/>
<line x1="1455.9" y1="578.9" x2="1455.9" y2="673.5" stroke="#CD0000" stroke-width="11.2" stroke-linecap="round" stroke-dasharray="0 5.913"/>
<circle cx="1455.9" cy="258.7" r="5.6"/>
<circle cx="1455.9" cy="298.7" r="5.6"/>
<circle cx="1455.9" cy="411.8" r="5.6"/>
<circle cx="1455.9" cy="460.1" r="5.6"/>
<circle cx="1455.9" cy="491.3" r="5.6"/>
<circle cx="1455.9" cy="504.6" r="5.6"/>
<circle cx="1455.9" cy="678" r="5.6"/>
<line x1="1467.5" y1="379.9" x2="1467.5" y2="398.9" stroke="#CD0000" stroke-width="11.2" stroke-linecap="round" stroke-dasharray="0 4.750"/>
<line x1="1467.5" y1="430.1" x2="1467.5" y2="651.2" stroke="#CD0000" stroke-width="11.2" stroke-linecap="round" stroke-dasharray="0 5.976"/>
<circle cx="1467.5" cy="214.6" r="5.6"/>
<circle cx="1467.5" cy="329.8" r="5.6"/>
<circle cx="1467.5" cy="356.2" r="5.6"/>
<circle cx="1467.5" cy="366.6" r="5.6"/>
<circle cx="1467.5" cy="415.6" r="5.6"/>
<line x1="1479.2" y1="445.7" x2="1479.2" y2="453.4" stroke="#CD0000" stroke-width="11.2" stroke-linecap="round" stroke-dasharray="0 3.850"/>
<line x1="1479.2" y1="502.4" x2="1479.2" y2="516.9" stroke="#CD0000" stroke-width="11.2" stroke-linecap="round" stroke-dasharray="0 4.833"/>
<line x1="1479.2" y1="539.1" x2="1479.2" y2="693.5" stroke="#CD0000" stroke-width="11.2" stroke-linecap="round" stroke-dasharray="0 5.938"/>
<circle cx="1479.2" cy="464.6" r="5.6"/>
<circle cx="1479.2" cy="490.2" r="5.6"/>
<line x1="1490.8" y1="545.8" x2="1490.8" y2="683.5" stroke="#CD0000" stroke-width="11.2" stroke-linecap="round" stroke-dasharray="0 5.987"/>
<circle cx="1490.8" cy="149.5" r="5.6"/>
<circle cx="1490.8" cy="254.7" r="5.6"/>
<circle cx="1490.8" cy="473.5" r="5.6"/>
<circle cx="1490.8" cy="509.1" r="5.6"/>
<circle cx="1490.8" cy="525.8" r="5.6"/>
<line x1="1502.5" y1="441.2" x2="1502.5" y2="454.6" stroke="#CD0000" stroke-width="11.2" stroke-linecap="round" stroke-dasharray="0 4.467"/>
<line x1="1502.5" y1="465.7" x2="1502.5" y2="584.5" stroke="#CD0000" stroke-width="11.2" stroke-linecap="round" stroke-dasharray="0 5.940"/>
<line x1="1502.5" y1="601.2" x2="1502.5" y2="702.4" stroke="#CD0000" stroke-width="11.2" stroke-linecap="round" stroke-dasharray="0 5.953"/>
<line x1="1514.1" y1="457.9" x2="1514.1" y2="463.5" stroke="#CD0000" stroke-width="11.2" stroke-linecap="round" stroke-dasharray="0 5.600"/>
<line x1="1514.1" y1="477.9" x2="1514.1" y2="681.3" stroke="#CD0000" stroke-width="11.2" stroke-linecap="round" stroke-dasharray="0 5.982"/>
<line x1="1525.7" y1="573.4" x2="1525.7" y2="584.5" stroke="#CD0000" stroke-width="11.2" stroke-linecap="round" stroke-dasharray="0 5.550"/>
<line x1="1525.7" y1="595.6" x2="1525.7" y2="681.3" stroke="#CD0000" stroke-width="11.2" stroke-linecap="round" stroke-dasharray="0 5.713"/>
<circle cx="1525.7" cy="551.4" r="5.6"/>
<circle cx="1525.7" cy="564.5" r="5.6"/>
<line x1="1537.4" y1="483.5" x2="1537.4" y2="490.2" stroke="#CD0000" stroke-width="11.2" stroke-linecap="round" stroke-dasharray="0 3.350"/>
<line x1="1537.4" y1="499.1" x2="1537.4" y2="713.5" stroke="#CD0000" stroke-width="11.2" stroke-linecap="round" stroke-dasharray="0 5.956"/>
<circle cx="1537.4" cy="414.1" r="5.6"/>
<circle cx="1537.4" cy="439" r="5.6"/>
<line x1="1549.0" y1="528" x2="1549.0" y2="715.8" stroke="#CD0000" stroke-width="11.2" stroke-linecap="round" stroke-dasharray="0 5.869"/>
<circle cx="1549.0" cy="338.8" r="5.6"/>
<circle cx="1549.0" cy="401.2" r="5.6"/>
<circle cx="1549.0" cy="471.2" r="5.6"/>
<circle cx="1549.0" cy="496.8" r="5.6"/>
<line x1="1560.7" y1="491.3" x2="1560.7" y2="504.6" stroke="#CD0000" stroke-width="11.2" stroke-linecap="round" stroke-dasharray="0 4.433"/>
<line x1="1560.7" y1="604.5" x2="1560.7" y2="622.3" stroke="#CD0000" stroke-width="11.2" stroke-linecap="round" stroke-dasharray="0 5.933"/>
<line x1="1560.7" y1="635.7" x2="1560.7" y2="711.3" stroke="#CD0000" stroke-width="11.2" stroke-linecap="round" stroke-dasharray="0 5.815"/>
<circle cx="1560.7" cy="389.2" r="5.6"/>
<circle cx="1560.7" cy="419.4" r="5.6"/>
<circle cx="1560.7" cy="450.1" r="5.6"/>
<circle cx="1560.7" cy="474.1" r="5.6"/>
<circle cx="1560.7" cy="534.7" r="5.6"/>
<circle cx="1560.7" cy="578.9" r="5.6"/>
<circle cx="1560.7" cy="593.4" r="5.6"/>
<line x1="1572.3" y1="602.3" x2="1572.3" y2="724.7" stroke="#CD0000" stroke-width="11.2" stroke-linecap="round" stroke-dasharray="0 5.829"/>
<circle cx="1572.3" cy="576.7" r="5.6"/>
<circle cx="1572.3" cy="591.2" r="5.6"/>
<line x1="1584.0" y1="522.4" x2="1584.0" y2="525.8" stroke="#CD0000" stroke-width="11.2" stroke-linecap="round" stroke-dasharray="0 3.400"/>
<line x1="1584.0" y1="544.7" x2="1584.0" y2="554.7" stroke="#CD0000" stroke-width="11.2" stroke-linecap="round" stroke-dasharray="0 5.000"/>
<line x1="1584.0" y1="582.3" x2="1584.0" y2="624.5" stroke="#CD0000" stroke-width="11.2" stroke-linecap="round" stroke-dasharray="0 5.275"/>
<line x1="1584.0" y1="637.9" x2="1584.0" y2="724.7" stroke="#CD0000" stroke-width="11.2" stroke-linecap="round" stroke-dasharray="0 5.787"/>
<circle cx="1584.0" cy="375.6" r="5.6"/>
<circle cx="1584.0" cy="394.5" r="5.6"/>
<circle cx="1584.0" cy="401.2" r="5.6"/>
<circle cx="1584.0" cy="416.7" r="5.6"/>
<circle cx="1584.0" cy="432.3" r="5.6"/>
<circle cx="1584.0" cy="446.8" r="5.6"/>
<line x1="1595.6" y1="436.8" x2="1595.6" y2="444.5" stroke="#CD0000" stroke-width="11.2" stroke-linecap="round" stroke-dasharray="0 3.850"/>
<line x1="1595.6" y1="459" x2="1595.6" y2="582.3" stroke="#CD0000" stroke-width="11.2" stroke-linecap="round" stroke-dasharray="0 5.871"/>
<line x1="1595.6" y1="593.4" x2="1595.6" y2="651.2" stroke="#CD0000" stroke-width="11.2" stroke-linecap="round" stroke-dasharray="0 5.780"/>
<circle cx="1595.6" cy="281" r="5.6"/>
<circle cx="1595.6" cy="283.7" r="5.6"/>
<circle cx="1595.6" cy="327.1" r="5.6"/>
<circle cx="1595.6" cy="347.8" r="5.6"/>
<circle cx="1595.6" cy="423.4" r="5.6"/>
<line x1="1607.3" y1="535.8" x2="1607.3" y2="539.1" stroke="#CD0000" stroke-width="11.2" stroke-linecap="round" stroke-dasharray="0 3.300"/>
<line x1="1607.3" y1="616.7" x2="1607.3" y2="713.5" stroke="#CD0000" stroke-width="11.2" stroke-linecap="round" stroke-dasharray="0 5.694"/>
<circle cx="1607.3" cy="564.5" r="5.6"/>
<line x1="1618.9" y1="422.3" x2="1618.9" y2="460.1" stroke="#CD0000" stroke-width="11.2" stroke-linecap="round" stroke-dasharray="0 5.400"/>
<line x1="1618.9" y1="473.5" x2="1618.9" y2="499.1" stroke="#CD0000" stroke-width="11.2" stroke-linecap="round" stroke-dasharray="0 5.120"/>
<line x1="1618.9" y1="513.5" x2="1618.9" y2="534.7" stroke="#CD0000" stroke-width="11.2" stroke-linecap="round" stroke-dasharray="0 5.300"/>
<line x1="1618.9" y1="548" x2="1618.9" y2="689.1" stroke="#CD0000" stroke-width="11.2" stroke-linecap="round" stroke-dasharray="0 5.879"/>
<circle cx="1618.9" cy="319.1" r="5.6"/>
<circle cx="1618.9" cy="343.8" r="5.6"/>
<circle cx="1618.9" cy="398.5" r="5.6"/>
<line x1="1630.5" y1="449" x2="1630.5" y2="456.8" stroke="#CD0000" stroke-width="11.2" stroke-linecap="round" stroke-dasharray="0 3.900"/>
<line x1="1630.5" y1="512.4" x2="1630.5" y2="682.4" stroke="#CD0000" stroke-width="11.2" stroke-linecap="round" stroke-dasharray="0 5.862"/>
<circle cx="1630.5" cy="341.2" r="5.6"/>
<circle cx="1630.5" cy="419" r="5.6"/>
<circle cx="1630.5" cy="693.5" r="5.6"/>
<line x1="1642.2" y1="580" x2="1642.2" y2="588.9" stroke="#CD0000" stroke-width="11.2" stroke-linecap="round" stroke-dasharray="0 4.450"/>
<line x1="1642.2" y1="601.2" x2="1642.2" y2="708" stroke="#CD0000" stroke-width="11.2" stroke-linecap="round" stroke-dasharray="0 5.933"/>
<line x1="1653.8" y1="465.7" x2="1653.8" y2="508" stroke="#CD0000" stroke-width="11.2" stroke-linecap="round" stroke-dasharray="0 5.288"/>
<line x1="1653.8" y1="518" x2="1653.8" y2="655.7" stroke="#CD0000" stroke-width="11.2" stroke-linecap="round" stroke-dasharray="0 5.987"/>
<circle cx="1653.8" cy="429.6" r="5.6"/>
<circle cx="1653.8" cy="443.4" r="5.6"/>
<line x1="1665.5" y1="508" x2="1665.5" y2="521.3" stroke="#CD0000" stroke-width="11.2" stroke-linecap="round" stroke-dasharray="0 4.433"/>
<line x1="1665.5" y1="555.8" x2="1665.5" y2="568.9" stroke="#CD0000" stroke-width="11.2" stroke-linecap="round" stroke-dasharray="0 4.367"/>
<line x1="1665.5" y1="652.3" x2="1665.5" y2="725.8" stroke="#CD0000" stroke-width="11.2" stroke-linecap="round" stroke-dasharray="0 5.654"/>
<circle cx="1665.5" cy="473.5" r="5.6"/>
<circle cx="1665.5" cy="491.3" r="5.6"/>
<circle cx="1665.5" cy="543.6" r="5.6"/>
<circle cx="1665.5" cy="577.8" r="5.6"/>
<circle cx="1665.5" cy="598.9" r="5.6"/>
<circle cx="1665.5" cy="636.8" r="5.6"/>
<line x1="1677.1" y1="493.5" x2="1677.1" y2="508" stroke="#CD0000" stroke-width="11.2" stroke-linecap="round" stroke-dasharray="0 4.833"/>
<line x1="1677.1" y1="529.1" x2="1677.1" y2="673.5" stroke="#CD0000" stroke-width="11.2" stroke-linecap="round" stroke-dasharray="0 5.776"/>
<circle cx="1677.1" cy="474.6" r="5.6"/>
<line x1="1688.8" y1="413.4" x2="1688.8" y2="443.4" stroke="#CD0000" stroke-width="11.2" stroke-linecap="round" stroke-dasharray="0 6.000"/>
<line x1="1688.8" y1="471.2" x2="1688.8" y2="607.8" stroke="#CD0000" stroke-width="11.2" stroke-linecap="round" stroke-dasharray="0 5.939"/>
<circle cx="1688.8" cy="460.1" r="5.6"/>
<line x1="1700.4" y1="386.6" x2="1700.4" y2="412.3" stroke="#CD0000" stroke-width="11.2" stroke-linecap="round" stroke-dasharray="0 5.140"/>
<line x1="1700.4" y1="421.2" x2="1700.4" y2="461.2" stroke="#CD0000" stroke-width="11.2" stroke-linecap="round" stroke-dasharray="0 5.714"/>
<line x1="1700.4" y1="470.1" x2="1700.4" y2="510.2" stroke="#CD0000" stroke-width="11.2" stroke-linecap="round" stroke-dasharray="0 5.729"/>
<line x1="1700.4" y1="515.7" x2="1700.4" y2="635.7" stroke="#CD0000" stroke-width="11.2" stroke-linecap="round" stroke-dasharray="0 6.000"/>
<line x1="1700.4" y1="645.7" x2="1700.4" y2="693.5" stroke="#CD0000" stroke-width="11.2" stroke-linecap="round" stroke-dasharray="0 5.975"/>
<circle cx="1700.4" cy="343.2" r="5.6"/>
<circle cx="1700.4" cy="360.5" r="5.6"/>
<line x1="1712.1" y1="512.4" x2="1712.1" y2="689.1" stroke="#CD0000" stroke-width="11.2" stroke-linecap="round" stroke-dasharray="0 5.890"/>
<circle cx="1712.1" cy="483.5" r="5.6"/>
<circle cx="1712.1" cy="499.1" r="5.6"/>
<line x1="1723.7" y1="512.4" x2="1723.7" y2="545.8" stroke="#CD0000" stroke-width="11.2" stroke-linecap="round" stroke-dasharray="0 5.567"/>
<line x1="1723.7" y1="560" x2="1723.7" y2="582.3" stroke="#CD0000" stroke-width="11.2" stroke-linecap="round" stroke-dasharray="0 5.575"/>
<line x1="1723.7" y1="601.2" x2="1723.7" y2="673.5" stroke="#CD0000" stroke-width="11.2" stroke-linecap="round" stroke-dasharray="0 5.562"/>
<circle cx="1723.7" cy="562.5" r="5.6"/>
<line x1="1735.3" y1="359.9" x2="1735.3" y2="370" stroke="#CD0000" stroke-width="11.2" stroke-linecap="round" stroke-dasharray="0 5.050"/>
<line x1="1735.3" y1="427.9" x2="1735.3" y2="463.5" stroke="#CD0000" stroke-width="11.2" stroke-linecap="round" stroke-dasharray="0 5.933"/>
<line x1="1735.3" y1="521.3" x2="1735.3" y2="595.6" stroke="#CD0000" stroke-width="11.2" stroke-linecap="round" stroke-dasharray="0 5.715"/>
<line x1="1735.3" y1="611.2" x2="1735.3" y2="705.8" stroke="#CD0000" stroke-width="11.2" stroke-linecap="round" stroke-dasharray="0 5.912"/>
<circle cx="1735.3" cy="298.7" r="5.6"/>
<circle cx="1735.3" cy="336.2" r="5.6"/>
<circle cx="1735.3" cy="503.1" r="5.6"/>
</g>
<line x1="233.15" y1="661.61" x2="570.85" y2="661.61" stroke="#8B0000" stroke-width="4.2"/>
<line x1="931.85" y1="637.18" x2="1269.55" y2="637.18" stroke="#8B0000" stroke-width="4.2"/>
<line x1="1397.64" y1="623.98" x2="1735.35" y2="623.98" stroke="#8B0000" stroke-width="4.2"/>
<g font-family="Liberation Sans, Arial, sans-serif" font-size="39.6" fill="#8B0000">
<text transform="translate(582.05,675.61) scale(1,1.03)">14.6</text>
<text transform="translate(1280.75,651.18) scale(1,1.03)">18.3</text>
<text transform="translate(1745.35,637.98) scale(1,1.03)">20.3</text>
</g>
<text transform="translate(1094.58,97.0) scale(1.03,1)" font-family="Liberation Sans, Arial, sans-serif" font-weight="bold" font-size="83" fill="#CD0000" text-anchor="middle">*</text>
<rect x="143.1" y="19.5" width="1728.90" height="753.60" fill="none" stroke="#333333" stroke-width="4.8"/>
</g>
<line x1="130.90" y1="758.00" x2="143.1" y2="758.00" stroke="#333333" stroke-width="4.7"/>
<line x1="130.90" y1="559.94" x2="143.1" y2="559.94" stroke="#333333" stroke-width="4.7"/>
<line x1="130.90" y1="361.88" x2="143.1" y2="361.88" stroke="#333333" stroke-width="4.7"/>
<line x1="130.90" y1="163.82" x2="143.1" y2="163.82" stroke="#333333" stroke-width="4.7"/>
<line x1="221.50" y1="773.1" x2="221.50" y2="785.30" stroke="#333333" stroke-width="4.7"/>
<line x1="337.95" y1="773.1" x2="337.95" y2="785.30" stroke="#333333" stroke-width="4.7"/>
<line x1="454.40" y1="773.1" x2="454.40" y2="785.30" stroke="#333333" stroke-width="4.7"/>
<line x1="570.85" y1="773.1" x2="570.85" y2="785.30" stroke="#333333" stroke-width="4.7"/>
<line x1="687.30" y1="773.1" x2="687.30" y2="785.30" stroke="#333333" stroke-width="4.7"/>
<line x1="803.75" y1="773.1" x2="803.75" y2="785.30" stroke="#333333" stroke-width="4.7"/>
<line x1="920.20" y1="773.1" x2="920.20" y2="785.30" stroke="#333333" stroke-width="4.7"/>
<line x1="1036.65" y1="773.1" x2="1036.65" y2="785.30" stroke="#333333" stroke-width="4.7"/>
<line x1="1153.10" y1="773.1" x2="1153.10" y2="785.30" stroke="#333333" stroke-width="4.7"/>
<line x1="1269.55" y1="773.1" x2="1269.55" y2="785.30" stroke="#333333" stroke-width="4.7"/>
<line x1="1386.00" y1="773.1" x2="1386.00" y2="785.30" stroke="#333333" stroke-width="4.7"/>
<line x1="1502.45" y1="773.1" x2="1502.45" y2="785.30" stroke="#333333" stroke-width="4.7"/>
<line x1="1618.90" y1="773.1" x2="1618.90" y2="785.30" stroke="#333333" stroke-width="4.7"/>
<line x1="1735.35" y1="773.1" x2="1735.35" y2="785.30" stroke="#333333" stroke-width="4.7"/>
<g font-family="Liberation Sans, Arial, sans-serif" font-size="39.6" fill="#4D4D4D">
<text transform="translate(121.5,772.30) scale(1,1.03)" text-anchor="end">0</text>
<text transform="translate(121.5,574.24) scale(1,1.03)" text-anchor="end">30</text>
<text transform="translate(121.5,376.18) scale(1,1.03)" text-anchor="end">60</text>
<text transform="translate(121.5,178.12) scale(1,1.03)" text-anchor="end">90</text>
<text transform="translate(221.90,823.6) scale(1,1.03)" text-anchor="middle">1970</text>
<text transform="translate(338.35,823.6) scale(1,1.03)" text-anchor="middle">1980</text>
<text transform="translate(454.80,823.6) scale(1,1.03)" text-anchor="middle">1990</text>
<text transform="translate(571.25,823.6) scale(1,1.03)" text-anchor="middle">2000</text>
<text transform="translate(687.70,823.6) scale(1,1.03)" text-anchor="middle">2010</text>
<text transform="translate(804.15,823.6) scale(1,1.03)" text-anchor="middle">2020</text>
<text transform="translate(920.60,823.6) scale(1,1.03)" text-anchor="middle">2030</text>
<text transform="translate(1037.05,823.6) scale(1,1.03)" text-anchor="middle">2040</text>
<text transform="translate(1153.50,823.6) scale(1,1.03)" text-anchor="middle">2050</text>
<text transform="translate(1269.95,823.6) scale(1,1.03)" text-anchor="middle">2060</text>
<text transform="translate(1386.40,823.6) scale(1,1.03)" text-anchor="middle">2070</text>
<text transform="translate(1502.85,823.6) scale(1,1.03)" text-anchor="middle">2080</text>
<text transform="translate(1619.30,823.6) scale(1,1.03)" text-anchor="middle">2090</text>
<text transform="translate(1735.75,823.6) scale(1,1.03)" text-anchor="middle">2100</text>
</g>
<text transform="translate(1007.55,879) scale(0.99,1.0)" font-family="Liberation Sans, Arial, sans-serif" font-size="48.6" fill="#000000" text-anchor="middle">Year</text>
<text transform="translate(54.5,396.30) rotate(-90) scale(1,1.0)" x="0" y="0" font-family="Liberation Sans, Arial, sans-serif" font-size="48.6" fill="#000000" text-anchor="middle">Precipitation (mm)</text>
</svg>
</body></html>
